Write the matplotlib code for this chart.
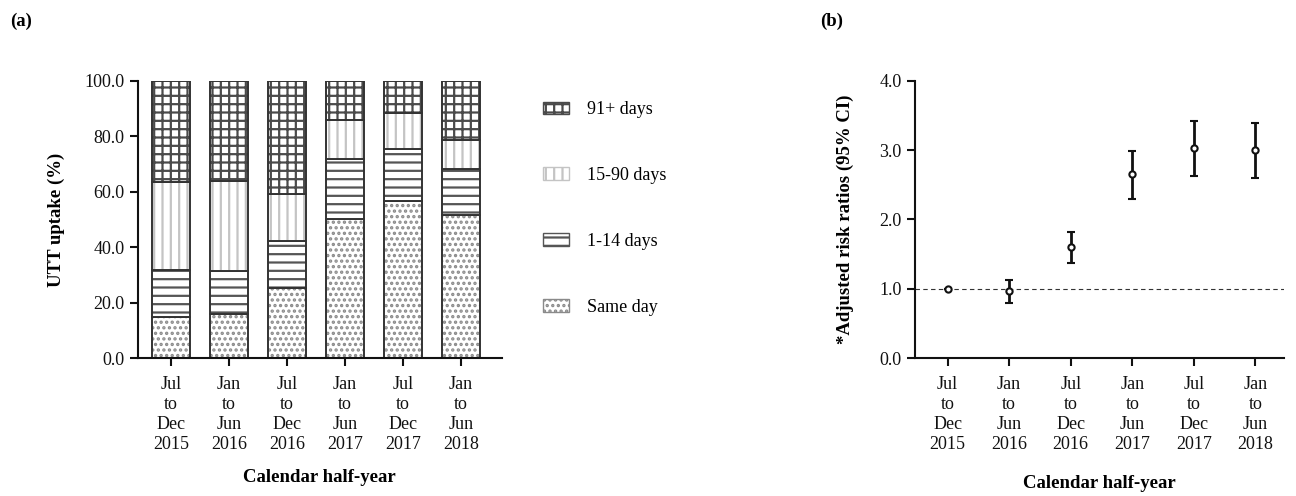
import matplotlib
matplotlib.use('Agg')
import matplotlib.pyplot as plt
from matplotlib.patches import Patch
import numpy as np

plt.rcParams['font.family'] = ['Liberation Serif', 'DejaVu Serif']
plt.rcParams['hatch.linewidth'] = 1.6

periods = ['Jul\nto\nDec\n2015', 'Jan\nto\nJun\n2016', 'Jul\nto\nDec\n2016',
           'Jan\nto\nJun\n2017', 'Jul\nto\nDec\n2017', 'Jan\nto\nJun\n2018']

# uptake (%) by time to test
sameDay = [14.7, 15.8, 25.2, 50.1, 56.8, 51.6]
days1to14 = [17.1, 15.6, 17.2, 21.7, 18.7, 16.5]
days15to90 = [31.8, 32.5, 16.8, 13.9, 12.8, 10.4]
days91plus = [36.4, 36.1, 40.8, 14.3, 11.7, 21.5]

# adjusted risk ratios
arr = [1.00, 0.97, 1.60, 2.65, 3.03, 3.00]
arrLow = [1.00, 0.80, 1.37, 2.30, 2.63, 2.60]
arrHigh = [1.00, 1.13, 1.82, 2.99, 3.42, 3.39]

segments = [
    ('Same day', sameDay, '...', '#8a8a8a'),
    ('1-14 days', days1to14, '--', '#555555'),
    ('15-90 days', days15to90, '||', '#c4c4c4'),
    ('91+ days', days91plus, '++', '#4a4a4a'),
]

fig = plt.figure(figsize=(12.96, 4.96), dpi=100)
axA = fig.add_axes([0.1065, 0.278, 0.2805, 0.559])
axB = fig.add_axes([0.706, 0.278, 0.285, 0.559])

x = np.arange(len(periods))
bottom = np.zeros(len(periods))
handles = []
for name, vals, hatch, col in segments:
    axA.bar(x, vals, 0.65, bottom=bottom, color='white', edgecolor=col,
            hatch=hatch, linewidth=0)
    axA.bar(x, vals, 0.65, bottom=bottom, fill=False, edgecolor='#333333',
            linewidth=1.4)
    bottom += np.array(vals)
    handles.append(Patch(facecolor='white', edgecolor=col, hatch=hatch, label=name))

axA.set_xlim(-0.57, 5.7)
axA.set_ylim(0, 100)
axA.set_yticks(np.arange(0, 101, 20))
axA.set_yticklabels(['%.1f' % v for v in np.arange(0, 101, 20)])
axA.set_xticks(x)
axA.set_xticklabels(periods, linespacing=1.22)
axA.set_ylabel('UTT uptake (%)', fontweight='bold', fontsize=13.5, labelpad=14)
axA.set_xlabel('Calendar half-year', fontweight='bold', fontsize=13.5, labelpad=12)

leg = axA.legend(handles[::-1], [h.get_label() for h in handles[::-1]],
                 loc='upper left', bbox_to_anchor=(1.07, 0.985), frameon=False,
                 fontsize=13, labelspacing=2.7, handlelength=1.45,
                 handleheight=0.7, handletextpad=1.0)

yerr = [np.array(arr) - np.array(arrLow), np.array(arrHigh) - np.array(arr)]
axB.axhline(1.0, color='#333333', linestyle='--', linewidth=0.8, dashes=(4, 3))
axB.errorbar(x, arr, yerr=yerr, fmt='o', color='#111111', ecolor='#111111',
             elinewidth=2, capsize=3, capthick=2, markersize=4.5,
             markerfacecolor='white', markeredgewidth=1.5)
axB.set_xlim(-0.53, 5.47)
axB.set_ylim(0, 4)
axB.set_yticks(np.arange(0, 4.1, 1))
axB.set_yticklabels(['%.1f' % v for v in np.arange(0, 4.1, 1)])
axB.set_xticks(x)
axB.set_xticklabels(periods, linespacing=1.22)
axB.set_ylabel('*Adjusted risk ratios (95% CI)', fontweight='bold', fontsize=13.5,
               labelpad=18)
axB.set_xlabel('Calendar half-year', fontweight='bold', fontsize=13.5, labelpad=16)

for ax in (axA, axB):
    for s in ['top', 'right']:
        ax.spines[s].set_visible(False)
    for s in ['left', 'bottom']:
        ax.spines[s].set_linewidth(1.5)
        ax.spines[s].set_color('#111111')
    ax.tick_params(direction='out', length=6, width=1.5, labelsize=13,
                   colors='#111111')
    ax.tick_params(axis='x', pad=7)

fig.text(0.008, 0.948, '(a)', fontweight='bold', fontsize=13.5)
fig.text(0.633, 0.948, '(b)', fontweight='bold', fontsize=13.5)

fig.savefig('out.png', dpi=100)
